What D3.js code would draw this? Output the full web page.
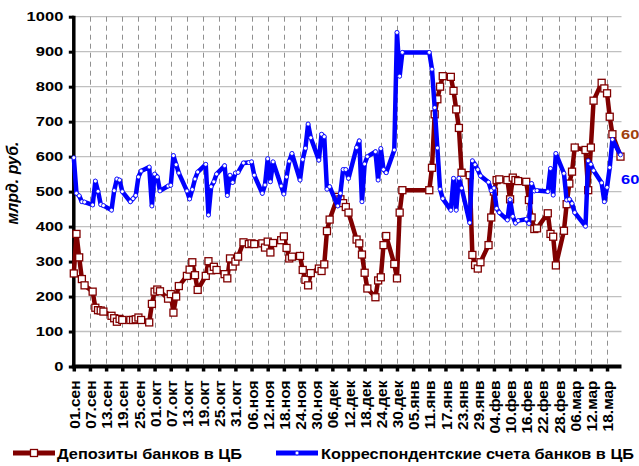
<!doctype html>
<html>
<head>
<meta charset="utf-8">
<script src="https://d3js.org/d3.v7.min.js"></script>
<style>
  body { margin: 0; background: #fff; }
  svg { display: block; font-family: "Liberation Sans", Arial, sans-serif; }
  .xtick-lbl { font-size: 15.5px; font-weight: bold; fill: #000; }
  .ytick-lbl { font-size: 13px; font-weight: bold; fill: #000; }
  .legend-lbl { font-size: 15px; font-weight: bold; fill: #000; }
</style>
</head>
<body>
<svg id="chart" width="639" height="466"></svg>
<script>
// dates of the observations (dd.mm, Sep 2008 .. Mar 2009)
var dates = [
  "01.09","02.09","03.09","04.09","05.09","08.09","09.09","10.09","11.09","12.09",
  "15.09","16.09","17.09","18.09","19.09","22.09","23.09","24.09","25.09","26.09",
  "29.09","30.09","01.10","02.10","03.10","06.10","07.10","08.10","09.10","10.10",
  "13.10","14.10","15.10","16.10","17.10","20.10","21.10","22.10","23.10","24.10",
  "27.10","28.10","29.10","30.10","31.10","01.11","03.11","05.11","06.11","07.11",
  "10.11","11.11","12.11","13.11","14.11","17.11","18.11","19.11","20.11","21.11",
  "24.11","25.11","26.11","27.11","28.11","01.12","02.12","03.12","04.12","05.12",
  "08.12","09.12","10.12","11.12","12.12","15.12","16.12","17.12","18.12","19.12",
  "22.12","23.12","24.12","25.12","26.12","29.12","30.12","31.12","01.01","11.01",
  "12.01","13.01","14.01","15.01","16.01","19.01","20.01","21.01","22.01","23.01",
  "26.01","27.01","28.01","29.01","30.01","02.02","03.02","04.02","05.02","06.02",
  "09.02","10.02","11.02","12.02","13.02","16.02","17.02","18.02","19.02","20.02",
  "24.02","25.02","26.02","27.02","02.03","03.03","04.03","05.03","06.03","10.03",
  "11.03","12.03","13.03","16.03","17.03","18.03","19.03","20.03","23.03"
];

// Депозиты банков в ЦБ, млрд. руб.
var deposits = [
  266,379,312,250,232,214,168,161,160,157,
  145,138,128,136,133,133,133,135,140,133,
  126,179,214,220,215,194,207,154,200,230,
  259,277,298,261,219,259,301,275,285,276,
  264,252,309,286,300,314,355,350,352,350,
  352,340,357,326,353,361,372,339,309,314,
  316,276,248,232,267,280,273,292,387,420,
  485,478,467,456,440,363,352,320,268,223,
  198,246,255,347,373,293,252,440,504,504,
  568,721,764,800,830,828,788,735,682,554,
  547,319,290,280,298,347,426,500,533,535,
  533,478,540,533,530,528,476,426,393,395,
  438,379,371,289,388,464,523,557,626,619,
  504,626,760,811,795,781,714,664,600
];

// Корреспондентские счета банков в ЦБ, млрд. руб.
var accounts = [
  597,495,488,471,470,462,530,501,463,460,
  447,503,536,533,500,471,480,489,542,559,
  570,459,550,542,502,516,518,603,577,553,
  502,479,506,536,556,578,433,514,528,550,
  574,489,547,526,553,555,582,583,585,547,
  495,519,594,528,585,516,493,542,587,609,
  533,592,624,693,654,590,664,657,507,514,
  459,495,563,563,538,626,645,471,579,600,
  614,533,623,563,554,619,955,830,898,898,
  850,740,625,507,480,447,538,447,538,510,
  411,588,577,563,545,527,503,510,452,440,
  419,477,429,410,417,421,409,523,502,503,
  500,566,490,609,552,476,478,466,440,401,
  588,578,560,525,471,512,569,649,605
];

// x tick labels (every 6 days from 01.09.2008)
var tickLabels = [
  "01.сен","07.сен","13.сен","19.сен","25.сен","01.окт","07.окт","13.окт","19.окт",
  "25.окт","31.окт","06.ноя","12.ноя","18.ноя","24.ноя","30.ноя","06.дек","12.дек",
  "18.дек","24.дек","30.дек","05.янв","11.янв","17.янв","23.янв","29.янв","04.фев",
  "10.фев","16.фев","22.фев","28.фев","06.мар","12.мар","18.мар"
];
var yTicks = [0, 100, 200, 300, 400, 500, 600, 700, 800, 900, 1000];

var parse = d3.timeParse("%d.%m.%Y");
function toDate(s) {
  var m = +s.slice(3, 5);
  return parse(s + "." + (m >= 9 ? "2008" : "2009"));
}

var data = dates.map(function(s, i) {
  return { date: toDate(s), dep: deposits[i], acc: accounts[i] };
});

var svg = d3.select("#chart");
var pLeft = 73.8, pRight = 620.5, pTop = 16.7, pBottom = 366.5;
var wide = 1.27; // numbers in the picture are drawn wider than normal

var x = d3.scaleTime()
  .domain([toDate("01.09"), toDate("23.03")])
  .range([pLeft, pRight]);
var y = d3.scaleLinear()
  .domain([0, 1000])
  .range([pBottom, pTop]);

var start = toDate("01.09");
var tickDates = tickLabels.map(function(l, i) { return d3.timeDay.offset(start, 6 * i); });

// horizontal grid
svg.append("g")
  .selectAll("line")
  .data(yTicks.slice(1))
  .enter().append("line")
  .attr("x1", pLeft).attr("x2", pRight + 1)
  .attr("y1", function(d) { return y(d); })
  .attr("y2", function(d) { return y(d); })
  .attr("stroke", "#c0c0c0")
  .attr("stroke-width", 1.3);

// vertical dashed grid
svg.append("g")
  .selectAll("line")
  .data(tickDates.slice(1))
  .enter().append("line")
  .attr("x1", function(d) { return Math.round(x(d)) + 0.5; })
  .attr("x2", function(d) { return Math.round(x(d)) + 0.5; })
  .attr("y1", pTop).attr("y2", pBottom)
  .attr("stroke", "#909090")
  .attr("stroke-width", 1)
  .attr("stroke-dasharray", "5,4");

// y axis
var yAxis = d3.axisLeft(y).tickValues(yTicks).tickFormat(d3.format("d")).tickSize(5);
var gy = svg.append("g").attr("transform", "translate(" + pLeft + ",0)").call(yAxis);
gy.select(".domain").attr("d", "M0," + (pTop - 1) + "V" + (pBottom + 1)).attr("stroke", "#000").attr("stroke-width", 3.5);
gy.selectAll(".tick line").attr("stroke", "#000").attr("stroke-width", 3);
gy.selectAll(".tick text")
  .attr("class", "ytick-lbl").attr("font-family", null).attr("font-size", null)
  .attr("x", -10.5 / wide)
  .attr("transform", "scale(" + wide + ",1)");

// x axis
var xAxis = d3.axisBottom(x).tickValues(tickDates)
  .tickFormat(function(d, i) { return tickLabels[i]; })
  .tickSize(5).tickPadding(6);
var gx = svg.append("g").attr("transform", "translate(0," + pBottom + ")").call(xAxis);
gx.select(".domain").attr("d", "M" + (pLeft - 2) + ",0H" + (pRight + 1)).attr("stroke", "#000").attr("stroke-width", 4);
gx.selectAll(".tick line").attr("stroke", "#000").attr("stroke-width", 3.5);
gx.selectAll(".tick text")
  .attr("class", "xtick-lbl")
  .attr("font-family", null).attr("font-size", null)
  .attr("text-anchor", "end")
  .attr("transform", "rotate(-90)")
  .attr("x", -14).attr("y", 0).attr("dy", "0.36em");

// y title
svg.append("text")
  .attr("transform", "translate(18,183) rotate(-90)")
  .attr("text-anchor", "middle")
  .attr("font-size", 16).attr("font-weight", "bold").attr("font-style", "italic")
  .text("млрд. руб.");

// series
var lineDep = d3.line().x(function(d) { return x(d.date); }).y(function(d) { return y(d.dep); });
var lineAcc = d3.line().x(function(d) { return x(d.date); }).y(function(d) { return y(d.acc); });

svg.append("path").datum(data)
  .attr("d", lineDep).attr("fill", "none")
  .attr("stroke", "#800000").attr("stroke-width", 4.5).attr("stroke-linejoin", "round");
svg.append("g").selectAll("rect").data(data).enter().append("rect")
  .attr("x", function(d) { return x(d.date) - 3.5; })
  .attr("y", function(d) { return y(d.dep) - 3.5; })
  .attr("width", 7).attr("height", 7)
  .attr("fill", "#fff").attr("stroke", "#800000").attr("stroke-width", 1.3);

svg.append("path").datum(data)
  .attr("d", lineAcc).attr("fill", "none")
  .attr("stroke", "#0000ff").attr("stroke-width", 4.5).attr("stroke-linejoin", "round");
svg.append("g").selectAll("circle").data(data).enter().append("circle")
  .attr("cx", function(d) { return x(d.date); })
  .attr("cy", function(d) { return y(d.acc); })
  .attr("r", 2).attr("fill", "#fff").attr("stroke", "#0000ff").attr("stroke-width", 0.8);

// last value labels
var last = data[data.length - 1];
svg.append("text")
  .attr("transform", "translate(621," + (y(last.dep) - 18) + ") scale(" + wide + ",1)")
  .attr("font-size", 13).attr("font-weight", "bold").attr("fill", "#a0400c")
  .text(last.dep);
svg.append("text")
  .attr("transform", "translate(621," + (y(last.acc) + 29) + ") scale(" + wide + ",1)")
  .attr("font-size", 13).attr("font-weight", "bold").attr("fill", "#0000ff")
  .text(last.acc);

// legend
var lg = svg.append("g");
lg.append("line").attr("x1", 13).attr("x2", 55).attr("y1", 453).attr("y2", 453)
  .attr("stroke", "#800000").attr("stroke-width", 5);
lg.append("rect").attr("x", 30.5).attr("y", 449.5).attr("width", 7).attr("height", 7)
  .attr("fill", "#fff").attr("stroke", "#800000").attr("stroke-width", 1.3);
lg.append("text").attr("class", "legend-lbl").attr("x", 57).attr("y", 459)
  .attr("textLength", 185).attr("lengthAdjust", "spacingAndGlyphs")
  .text("Депозиты банков в ЦБ");
lg.append("line").attr("x1", 276).attr("x2", 318).attr("y1", 453).attr("y2", 453)
  .attr("stroke", "#0000ff").attr("stroke-width", 5);
lg.append("circle").attr("cx", 297).attr("cy", 453).attr("r", 2)
  .attr("fill", "#fff").attr("stroke", "#0000ff").attr("stroke-width", 0.8);
lg.append("text").attr("class", "legend-lbl").attr("x", 321).attr("y", 459)
  .attr("textLength", 313).attr("lengthAdjust", "spacingAndGlyphs")
  .text("Корреспондентские счета банков в ЦБ");
</script>
</body>
</html>
